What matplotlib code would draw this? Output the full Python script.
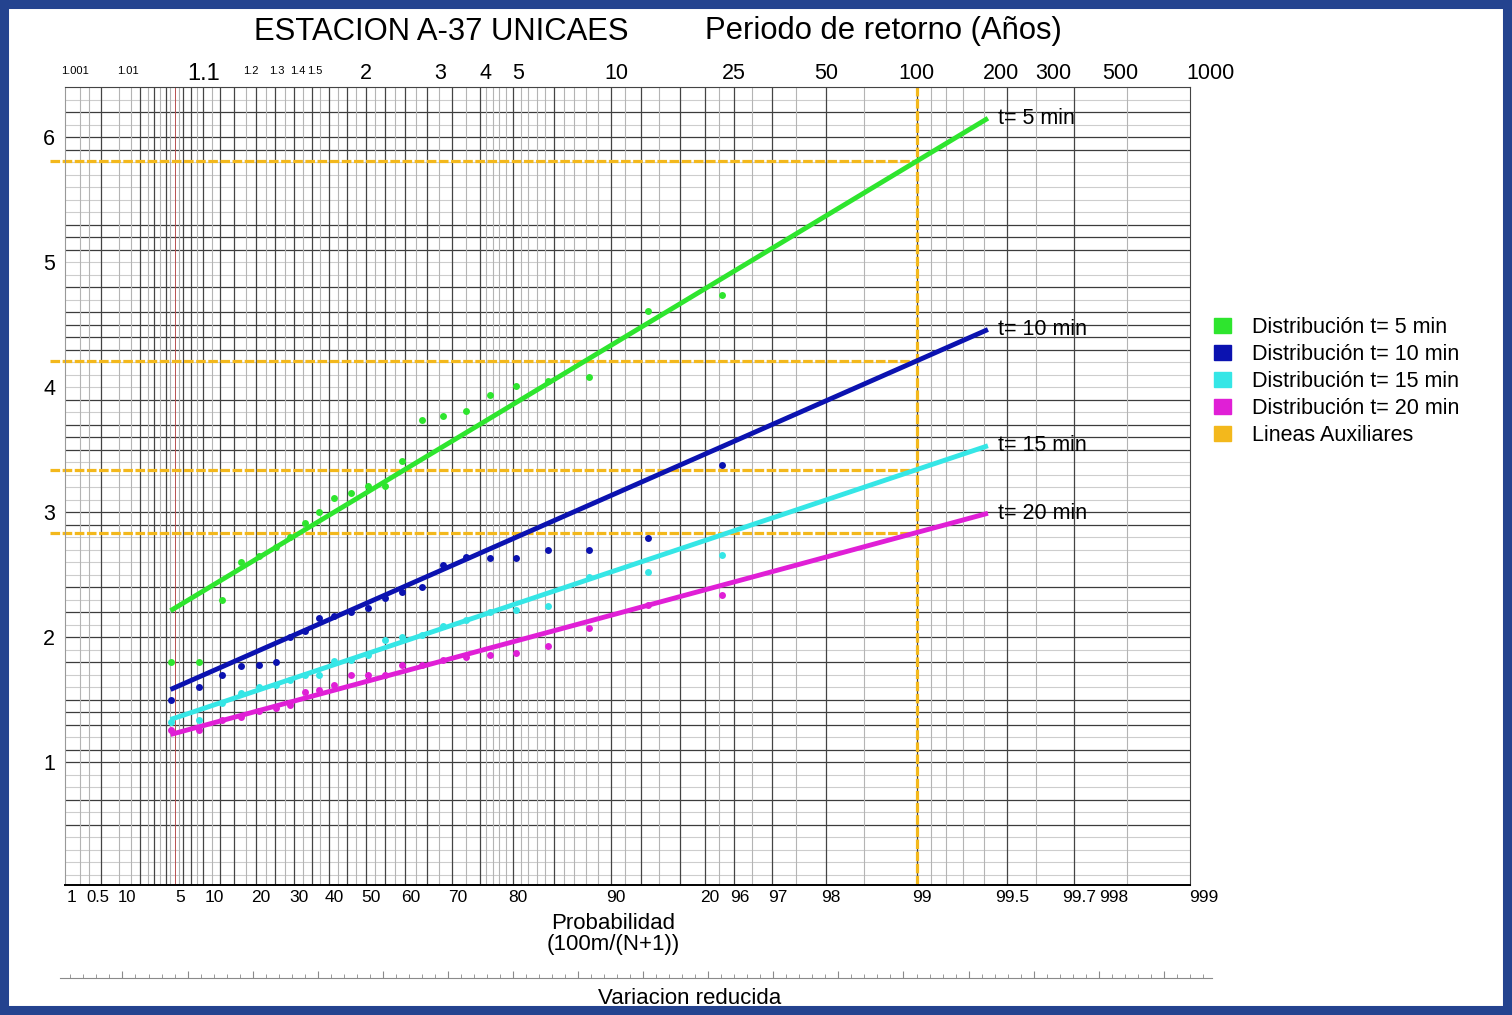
import numpy as np
import matplotlib.pyplot as plt
from matplotlib.patches import Patch, Rectangle
from matplotlib.ticker import MultipleLocator

plt.rcParams['font.family'] = ['Liberation Sans', 'DejaVu Sans']

W, H = 1512, 1015

# plotting positions 100m/(N+1), in %
prob = [4.6, 8.3, 12.4, 16.5, 20.8, 25.2, 29.0, 33.2, 37.1, 41.3, 46.1, 50.6,
        55.0, 59.2, 63.8, 68.2, 72.6, 76.6, 80.4, 84.3, 88.3, 92.4, 95.6]

t5 = [1.80, 1.80, 2.30, 2.60, 2.65, 2.72, 2.80, 2.91, 3.00, 3.11, 3.15, 3.21,
      3.21, 3.41, 3.74, 3.77, 3.81, 3.94, 4.01, 4.05, 4.08, 4.61, 4.74]
t10 = [1.50, 1.60, 1.70, 1.77, 1.78, 1.80, 2.00, 2.05, 2.15, 2.17, 2.20, 2.23,
       2.31, 2.36, 2.40, 2.58, 2.64, 2.63, 2.63, 2.70, 2.70, 2.79, 3.38]
t15 = [1.32, 1.34, 1.47, 1.55, 1.60, 1.62, 1.66, 1.70, 1.70, 1.81, 1.82, 1.86,
       1.98, 2.00, 2.02, 2.09, 2.14, 2.20, 2.22, 2.25, 2.48, 2.52, 2.66]
t20 = [1.26, 1.26, 1.34, 1.36, 1.41, 1.43, 1.46, 1.56, 1.58, 1.62, 1.70, 1.70,
       1.70, 1.78, 1.78, 1.82, 1.84, 1.86, 1.87, 1.93, 2.07, 2.26, 2.34]

# fitted gumbel lines, value at both ends (probability in %)
line_prob = [4.5, 99.42]
fit5 = [2.21, 6.15]
fit10 = [1.58, 4.46]
fit15 = [1.34, 3.53]
fit20 = [1.22, 2.99]

design_prob = 99.0  # T = 100 years

names = ['t= 5 min', 't= 10 min', 't= 15 min', 't= 20 min']
colors = ['#2ee52e', '#0b12b0', '#35e6e6', '#e01fd6']
aux_color = '#f3b81c'

top_T = [1.001, 1.01, 1.1, 1.2, 1.3, 1.4, 1.5, 2, 3, 4, 5, 10, 25, 50, 100,
         200, 300, 500, 1000]
top_labels = ['1.001', '1.01', '1.1', '1.2', '1.3', '1.4', '1.5', '2', '3', '4',
              '5', '10', '25', '50', '100', '200', '300', '500', '1000']

bottom_p = [0.1, 0.5, 1, 5, 10, 20, 30, 40, 50, 60, 70, 80, 90, 95, 96, 97, 98,
            99, 99.5, 99.7, 99.8, 99.9]
bottom_labels = ['1', '0.5', '10', '5', '10', '20', '30', '40', '50', '60', '70',
                 '80', '90', '20', '96', '97', '98', '99', '99.5', '99.7', '998', '999']


def red(p):
    # probability (%) -> gumbel reduced variate
    p = np.asarray(p, dtype=float) / 100.0
    return -np.log(-np.log(p))


def fx(px):
    return px / W


def fy(py):
    return 1 - py / H


fig = plt.figure(figsize=(W / 100, H / 100), dpi=100)
ax = fig.add_axes([fx(65), fy(885), 1125 / W, 798 / H])
ax.set_xlim(-1.942, 6.699)
ax.set_ylim(0.016, 6.40)

# horizontal grid
dark_h = {0.5, 0.7, 1.0, 1.1, 1.3, 1.4, 1.5, 1.8, 2.0, 2.2, 2.4, 2.9, 3.0, 3.5,
          3.6, 3.7, 3.9, 4.3, 4.4, 4.5, 4.6, 4.8, 5.1, 5.2, 5.3, 5.9, 6.0, 6.2}
for v in np.round(np.arange(0.1, 6.4, 0.1), 1):
    if v in dark_h:
        ax.axhline(v, color='#3c3c3c', lw=0.9, zorder=0)
    else:
        ax.axhline(v, color='#cdcdcd', lw=0.8, zorder=0)

# vertical grid (probability paper)
dark_v = [0.5, 2, 3, 4, 6, 7, 9, 12, 15, 20, 25, 30, 35, 40, 45, 50, 55,
          60, 65, 70, 75, 80, 85, 90, 92, 94, 95, 96, 97, 98, 99, 99.5, 99.7]
light_v = ([0.2, 0.3, 1, 1.5, 2.5, 3.5, 4.5, 5.5, 8, 10.5]
           + list(np.arange(17.5, 76, 5))
           + [76, 77, 78, 79, 81, 82, 83, 84, 86, 87, 88, 89, 91, 93, 95.5, 96.5,
              97.5, 98.5, 99.1, 99.2, 99.3, 99.4, 99.6, 99.8])
for p in light_v:
    ax.axvline(red(p), color='#b4b4b4', lw=0.8, zorder=0)
for p in dark_v:
    ax.axvline(red(p), color='#444444', lw=0.9, zorder=0)
ax.axvline(red(5), color='#b85050', lw=0.7, zorder=1)

# auxiliary lines at T = 100 years
xd = red(design_prob)
fits = [fit5, fit10, fit15, fit20]
for fit in fits:
    v100 = np.interp(xd, red(line_prob), fit)
    ax.plot([-2.06, xd], [v100, v100], color=aux_color, lw=2.3,
            ls=(0, (3, 0.8)), clip_on=False, zorder=2)
ax.axvline(xd, color=aux_color, lw=2.3, ls=(0, (3, 0.8)), zorder=2)

# fitted lines and data
series = [t5, t10, t15, t20]
for vals, fit, c, name in zip(series, fits, colors, names):
    ax.plot(red(line_prob), fit, color=c, lw=3.5, solid_capstyle='butt', zorder=3)
    ax.plot(red(prob), vals, 'o', color=c, ms=5, mec='none', zorder=4)
    ax.annotate(name, (red(line_prob[1]), fit[1]), xytext=(7, 0),
                textcoords='offset points', va='center', ha='left',
                fontsize=15.5, zorder=5)

for side in ['top', 'right']:
    ax.spines[side].set_color('#444444')
ax.spines['left'].set_color('#999999')
ax.spines['bottom'].set_color('black')
ax.spines['bottom'].set_linewidth(1.4)

ax.set_xticks([])
ax.set_yticks([1, 2, 3, 4, 5, 6])
ax.tick_params(axis='y', length=0, labelsize=15.5, pad=7)

# top: return period
xt = ax.get_xaxis_transform()
for T, lab in zip(top_T, top_labels):
    x = red(100 * (1 - 1 / T))
    if lab in ('1.001', '1.01', '1.2', '1.3', '1.4', '1.5'):
        ax.text(x + 0.07, 1.0205, lab, transform=xt, ha='center', va='center',
                fontsize=8, clip_on=False)
    else:
        size = 17 if lab == '1.1' else 15.5
        nudge = -0.05 if T >= 200 else (0.04 if 2 < T <= 10 else 0.0)
        ax.text(x + nudge, 1.0165, lab, transform=xt, ha='center', va='center',
                fontsize=size, clip_on=False)

# bottom: probability
for p, lab in zip(bottom_p, bottom_labels):
    if p >= 99.8:
        nudge = -0.1
    elif p == 0.5:
        nudge = -0.02
    elif p == 1:
        nudge = 0.06
    else:
        nudge = 0.04
    size = 12 if p in (0.5, 1) else 12.5
    ax.text(red(p) + nudge, -0.0155, lab, transform=xt, ha='center', va='center',
            fontsize=size, clip_on=False)

fig.text(fx(441), fy(32), 'ESTACION A-37 UNICAES', ha='center', va='center',
         fontsize=22.3)
fig.text(fx(883), fy(31), 'Periodo de retorno (Años)', ha='center', va='center',
         fontsize=22.3)
fig.text(fx(613), fy(934), 'Probabilidad\n(100m/(N+1))', ha='center', va='center',
         fontsize=16, linespacing=1.05)
fig.text(fx(690), fy(999), 'Variacion reducida', ha='center', va='center',
         fontsize=16)

# reduced variate scale
ax3 = fig.add_axes([fx(60), fy(978), 1152 / W, 0.002])
ax3.set_xlim(-1.98, 6.87)
ax3.set_yticks([])
for side in ['top', 'right', 'left']:
    ax3.spines[side].set_visible(False)
ax3.spines['bottom'].set_color('#8a8a8a')
ax3.patch.set_alpha(0)
ax3.xaxis.set_major_locator(MultipleLocator(0.5))
ax3.xaxis.set_minor_locator(MultipleLocator(0.1))
ax3.tick_params(axis='x', which='major', direction='in', length=5, color='#8a8a8a',
                labelbottom=False)
ax3.tick_params(axis='x', which='minor', direction='in', length=3, color='#8a8a8a')

# legend
handles = [Patch(color=c) for c in colors] + [Patch(color=aux_color)]
labels = ['Distribución ' + n for n in names] + ['Lineas Auxiliares']
fig.legend(handles, labels, loc='upper left', bbox_to_anchor=(fx(1205), fy(308)),
           frameon=False, fontsize=15.5, handlelength=0.8, handleheight=0.7,
           handletextpad=1.0, labelspacing=0.28, borderaxespad=0)

# blue frame
fig.patches.append(Rectangle((0, 0), 1, 1, transform=fig.transFigure, fill=False,
                             edgecolor='#24438f', lw=13))

fig.savefig('out.png', dpi=100)
